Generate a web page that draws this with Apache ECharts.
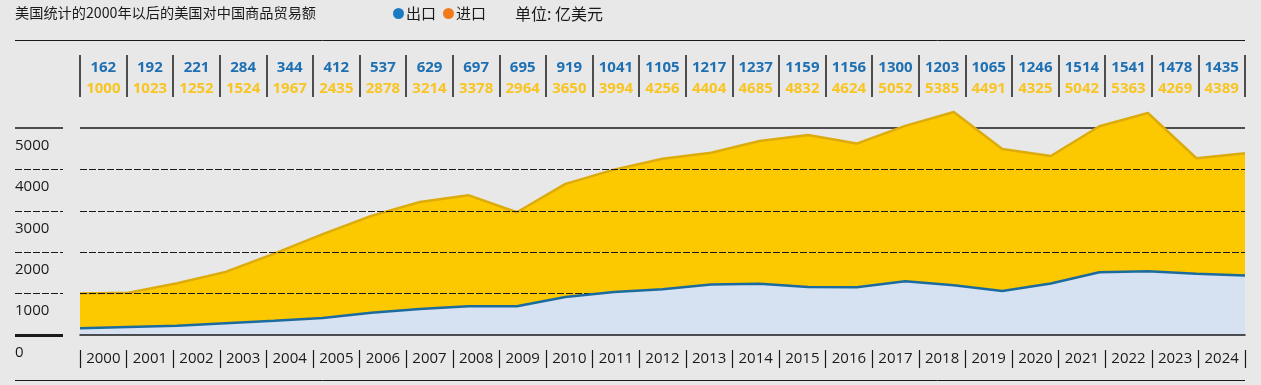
<!DOCTYPE html>
<html><head><meta charset="utf-8">
<script src="https://cdn.jsdelivr.net/npm/echarts@6/dist/echarts.min.js"></script>
<style>html,body{margin:0;padding:0;background:#e8e8e8}#c{width:1261px;height:385px}</style>
</head><body><div id="c"></div>
<script>
// ---- data ----
const years = ['2000','2001','2002','2003','2004','2005','2006','2007','2008','2009','2010','2011','2012','2013','2014','2015','2016','2017','2018','2019','2020','2021','2022','2023','2024'];
const exportsV = [162,192,221,284,344,412,537,629,697,695,919,1041,1105,1217,1237,1159,1156,1300,1203,1065,1246,1514,1541,1478,1435];
const importsV = [1000,1023,1252,1524,1967,2435,2878,3214,3378,2964,3650,3994,4256,4404,4685,4832,4624,5052,5385,4491,4325,5042,5363,4269,4389];
const yTickValues = [0,1000,2000,3000,4000,5000];
const dashedLevels = [1000,2000,3000,4000];
const titleText = '美国统计的2000年以后的美国对中国商品贸易额';
const unitText = '单位: 亿美元';

// ---- styles ----
const CJK = '"Noto Sans CJK SC", sans-serif';
const NUM = '"Open Sans", "Noto Sans", sans-serif';
const blueTxt = '#1f70b3';
const yellowTxt = '#f8c524';
const ink = '#1a1a1a';
const dashStyle = {color: '#1a1a1a', width: 1, type: [7, 2]};

const chart = echarts.init(document.getElementById('c'), null, {renderer: 'canvas'});

const leftSeg = (v, style) => [{x: 15, yAxis: v, lineStyle: style}, {x: 63, yAxis: v}];

chart.setOption({
  backgroundColor: '#e8e8e8',
  animation: false,
  title: [
    {text: titleText, left: 15, top: 6, padding: 0,
     textStyle: {fontFamily: CJK, fontSize: 14.2, fontWeight: 'normal', color: ink}},
    {text: unitText, left: 515, top: 6, padding: 0,
     textStyle: {fontFamily: CJK, fontSize: 16, fontWeight: 'normal', color: ink}}
  ],
  legend: {
    left: 393, top: 6, padding: 0, icon: 'circle', itemWidth: 11, itemHeight: 11, itemGap: 7,
    selectedMode: false,
    textStyle: {fontFamily: CJK, fontSize: 15, color: ink, padding: [0,0,0,-3]},
    data: [{name: '出口', itemStyle: {color: '#1b7bc2'}}, {name: '进口', itemStyle: {color: '#f07a1c'}}]
  },
  graphic: [
    {type: 'line', shape: {x1: 15, y1: 40.5, x2: 1245, y2: 40.5}, style: {stroke: ink, lineWidth: 1}},
    {type: 'line', shape: {x1: 15, y1: 380.5, x2: 1245, y2: 380.5}, style: {stroke: ink, lineWidth: 1}}
  ],
  grid: [
    {left: 80, right: 16, top: 86.6, bottom: 50},
    {left: 80, right: 16, top: 55, bottom: 288},
    {left: 80, right: 16, top: 350, bottom: 17}
  ],
  xAxis: [
    {type: 'category', gridIndex: 0, data: years, boundaryGap: false, z: 10,
     axisLine: {show: true, lineStyle: {color: ink, width: 1.5}},
     axisTick: {show: false}, axisLabel: {show: false}, splitLine: {show: false}},
    {type: 'category', gridIndex: 1, data: years, boundaryGap: true, position: 'bottom',
     axisLine: {show: false},
     axisTick: {show: true, inside: true, length: 42, interval: 0, lineStyle: {color: ink, width: 1.5}},
     axisLabel: {show: true, inside: true, margin: -2, interval: 0,
       formatter: (v, i) => '{e|' + exportsV[i] + '}\n{m|' + importsV[i] + '}',
       rich: {
         e: {fontFamily: NUM, fontSize: 15, fontWeight: 'bold', color: blueTxt, lineHeight: 21},
         m: {fontFamily: NUM, fontSize: 15, fontWeight: 'bold', color: yellowTxt, lineHeight: 21}
       }},
     splitLine: {show: false}},
    {type: 'category', gridIndex: 2, data: years, boundaryGap: true, position: 'bottom',
     axisLine: {show: false},
     axisTick: {show: true, inside: true, length: 18, interval: 0, lineStyle: {color: ink, width: 1.2}},
     axisLabel: {show: true, inside: true, margin: 0, interval: 0, fontFamily: NUM, fontSize: 15,
       color: ink, lineHeight: 18},
     splitLine: {show: false}}
  ],
  yAxis: [
    {type: 'value', gridIndex: 0, min: 0, max: 6000, interval: 1000,
     axisLine: {show: false}, axisTick: {show: false}, splitLine: {show: false},
     axisLabel: {show: true, align: 'left', margin: 65, verticalAlign: 'top', padding: [10,0,0,0],
       fontFamily: NUM, fontSize: 15, color: ink,
       formatter: v => yTickValues.indexOf(v) >= 0 ? String(v) : ''}},
    {type: 'value', gridIndex: 1, show: false},
    {type: 'value', gridIndex: 2, show: false}
  ],
  series: [
    {type: 'line', name: '_top', data: [], z: 1, clip: false, silent: true,
     markLine: {z: 1, silent: true, symbol: ['none','none'], label: {show: false}, animation: false,
       lineStyle: {color: ink, width: 1.5, type: 'solid'},
       data: [{yAxis: 5000}, leftSeg(5000, {color: ink, width: 1.5, type: 'solid'}),
              leftSeg(0, {color: ink, width: 3, type: 'solid'})]}},
    {type: 'line', name: '进口', data: importsV, z: 2, symbol: 'none', smooth: false,
     itemStyle: {color: '#f07a1c'},
     lineStyle: {color: '#dcab0c', width: 2.5},
     areaStyle: {color: '#fcc800', opacity: 1}},
    {type: 'line', name: '_grid', data: [], z: 3, clip: false, silent: true,
     markLine: {z: 3, silent: true, symbol: ['none','none'], label: {show: false}, animation: false,
       lineStyle: dashStyle,
       data: dashedLevels.map(v => ({yAxis: v})).concat(dashedLevels.map(v => leftSeg(v, dashStyle)))}},
    {type: 'line', name: '出口', data: exportsV, z: 4, symbol: 'none', smooth: false,
     itemStyle: {color: '#1b7bc2'},
     lineStyle: {color: '#1c6b9f', width: 2.5},
     areaStyle: {color: '#d6e2f2', opacity: 1}}
  ]
});
</script>
</body></html>
